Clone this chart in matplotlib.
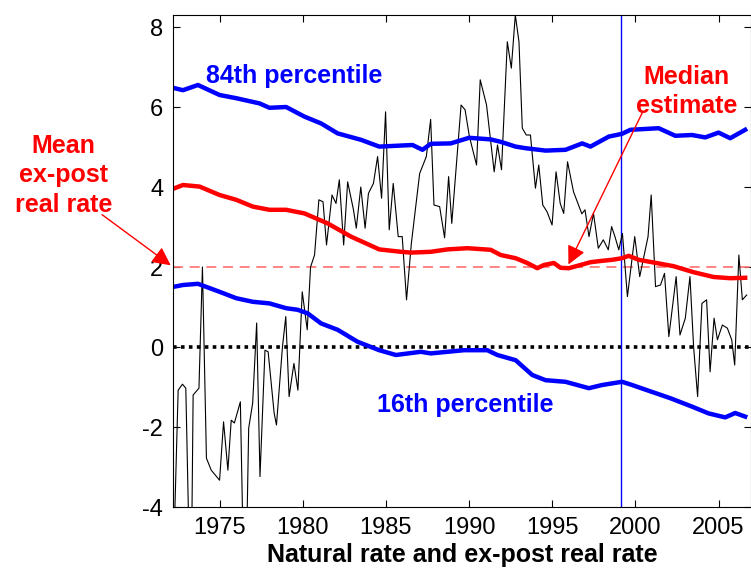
import matplotlib
matplotlib.use("Agg")
import matplotlib.pyplot as plt

plt.rcParams['font.family'] = ['Liberation Sans', 'DejaVu Sans']
plt.rcParams['axes.unicode_minus'] = False

# ex-post real rate (thin black line)
real_years = [1972.31, 1972.51, 1972.77, 1972.97, 1973.15, 1973.33, 1973.41, 1973.76, 1973.97,
              1974.21, 1974.50, 1975.00, 1975.24, 1975.50, 1975.70, 1975.89, 1976.25, 1976.40,
              1976.64, 1976.75, 1976.99, 1977.23, 1977.43, 1977.73, 1977.92, 1978.28, 1978.42,
              1978.78, 1978.98, 1979.18, 1979.47, 1979.71, 1979.97, 1980.27, 1980.47, 1980.71,
              1980.97, 1981.22, 1981.43, 1981.76, 1982.00, 1982.20, 1982.46, 1982.70, 1983.05,
              1983.22, 1983.49, 1983.75, 1983.95, 1984.25, 1984.50, 1984.74, 1984.98, 1985.20,
              1985.44, 1985.74, 1985.98, 1986.24, 1986.53, 1987.03, 1987.43, 1987.69, 1987.89,
              1988.23, 1988.53, 1988.77, 1988.96, 1989.52, 1989.76, 1990.02, 1990.45, 1990.67,
              1991.05, 1991.51, 1991.71, 1991.95, 1992.30, 1992.54, 1992.78, 1993.00, 1993.20,
              1993.44, 1993.69, 1993.99, 1994.19, 1994.43, 1994.69, 1994.99, 1995.23, 1995.48,
              1995.69, 1995.92, 1996.28, 1996.54, 1996.78, 1996.97, 1997.21, 1997.48, 1997.77,
              1998.07, 1998.37, 1998.57, 1998.77, 1999.00, 1999.22, 1999.52, 1999.76, 1999.96,
              2000.26, 2000.76, 2000.95, 2001.21, 2001.51, 2001.75, 2002.01, 2002.45, 2002.68,
              2003.00, 2003.28, 2003.50, 2003.74, 2004.00, 2004.28, 2004.49, 2004.73, 2004.93,
              2005.23, 2005.53, 2005.79, 2005.97, 2006.22, 2006.43, 2006.69]
real_rate = [-4.1, -1.08, -0.93, -1.03, -4.6, -4.6, -1.2, -1.03, 2.0,
             -2.78, -3.08, -3.33, -1.87, -3.08, -1.83, -1.9, -1.37, -4.6,
             -4.6, -2.03, -1.4, 0.6, -3.24, -0.08, -0.12, -1.65, -1.95,
             0.0, 0.76, -1.24, -0.41, -1.08, 1.38, 0.43, 2.0, 2.3,
             3.68, 3.63, 2.55, 3.8, 3.59, 4.18, 2.55, 4.13, 3.43,
             2.97, 4.0, 2.97, 3.84, 4.09, 4.76, 3.72, 5.88, 2.93,
             4.09, 2.76, 2.76, 1.18, 2.59, 4.34, 4.76, 5.69, 3.55,
             3.51, 2.73, 4.26, 3.09, 6.05, 5.93, 5.26, 4.55, 6.68,
             6.05, 4.38, 5.05, 4.43, 7.63, 6.97, 8.3, 7.63, 5.47,
             5.3, 5.3, 3.97, 4.55, 3.55, 3.38, 3.05, 4.38, 3.59,
             3.34, 4.63, 3.88, 3.59, 3.33, 3.43, 2.76, 3.34, 2.47,
             2.68, 2.43, 3.01, 2.76, 2.43, 2.84, 1.26, 2.09, 2.76,
             1.76, 2.76, 3.8, 1.51, 1.55, 1.84, 0.26, 1.76, 0.3,
             0.72, 1.76, 0.0, -1.24, 1.09, 1.18, -0.62, 0.72, 0.18,
             0.55, 0.47, 0.18, -0.45, 2.3, 1.18, 1.3]

# 84th percentile
p84_years = [1972.3, 1972.8, 1973.7, 1975.0, 1976.0, 1977.4, 1978.0, 1979.0, 1980.1, 1981.1,
             1982.1, 1983.5, 1984.6, 1985.6, 1986.6, 1987.2, 1987.7, 1988.9, 1990.0, 1991.3,
             1991.9, 1992.8, 1993.4, 1994.6, 1995.8, 1996.8, 1997.3, 1998.4, 1999.2, 1999.7,
             2001.4, 2002.4, 2003.4, 2004.2, 2005.0, 2005.7, 2006.6]
p84 = [6.47, 6.42, 6.55, 6.3, 6.22, 6.09, 5.98, 6.0, 5.76, 5.59,
       5.34, 5.18, 5.01, 5.03, 5.05, 4.93, 5.08, 5.09, 5.23, 5.19,
       5.13, 5.01, 4.97, 4.91, 4.93, 5.09, 5.01, 5.26, 5.33, 5.43,
       5.47, 5.28, 5.3, 5.24, 5.36, 5.22, 5.43]

# median estimate
med_years = [1972.3, 1972.8, 1973.8, 1975.0, 1976.0, 1977.0, 1978.0, 1979.0, 1980.1, 1981.5,
             1982.9, 1984.6, 1985.9, 1986.5, 1987.7, 1988.7, 1989.9, 1991.3, 1991.9, 1992.8,
             1993.5, 1994.1, 1994.5, 1995.1, 1995.5, 1996.0, 1996.7, 1997.3, 1997.9, 1998.6,
             1999.2, 1999.6, 2000.2, 2001.0, 2002.3, 2003.5, 2004.7, 2005.7, 2006.6]
median = [3.97, 4.05, 4.01, 3.8, 3.68, 3.51, 3.43, 3.43, 3.34, 3.09,
          2.76, 2.44, 2.38, 2.36, 2.38, 2.44, 2.47, 2.43, 2.3, 2.22,
          2.1, 1.97, 2.05, 2.1, 1.98, 1.97, 2.05, 2.12, 2.15, 2.18,
          2.22, 2.28, 2.18, 2.12, 2.02, 1.87, 1.75, 1.72, 1.73]

# 16th percentile
p16_years = [1972.3, 1972.8, 1973.7, 1975.0, 1976.0, 1977.0, 1978.0, 1979.0, 1979.7, 1980.3,
             1981.1, 1982.1, 1983.3, 1984.6, 1985.6, 1987.1, 1987.7, 1989.7, 1991.1, 1991.7,
             1992.8, 1993.8, 1994.6, 1995.8, 1997.2, 1998.0, 1999.2, 1999.8, 2000.7, 2002.1,
             2003.4, 2004.4, 2005.4, 2006.0, 2006.6]
p16 = [1.51, 1.55, 1.58, 1.38, 1.22, 1.13, 1.09, 0.97, 0.93, 0.84,
       0.59, 0.43, 0.13, -0.08, -0.2, -0.12, -0.16, -0.08, -0.08, -0.2,
       -0.33, -0.7, -0.83, -0.87, -1.03, -0.95, -0.87, -0.95, -1.08, -1.28,
       -1.49, -1.66, -1.76, -1.65, -1.74]

mean_real_rate = 2.0
split_year = 1999.15
x_ticks = [1975, 1980, 1985, 1990, 1995, 2000, 2005]
y_ticks = [-4, -2, 0, 2, 4, 6, 8]

fig = plt.figure(figsize=(7.51, 5.72), dpi=100)
ax = fig.add_axes([173 / 751, 1 - 507 / 572, 1 - 173 / 751, (507 - 15) / 572])

ax.axhline(mean_real_rate, color='#ff7070', lw=1.2, dashes=(6, 4))
ax.axhline(0, color='black', lw=2.6, linestyle=(0, (1, 1.2)))
ax.axvline(split_year, color='blue', lw=1)
ax.plot(real_years, real_rate, color='black', lw=0.8)
ax.plot(p84_years, p84, color='blue', lw=3.2)
ax.plot(p16_years, p16, color='blue', lw=3.2)
ax.plot(med_years, median, color='red', lw=3.2)

ax.set_xlim(1972.2, 2006.95)
ax.set_ylim(-4, 8.3)
ax.set_xticks(x_ticks)
ax.set_yticks(y_ticks)
ax.tick_params(direction='in', top=True, right=True, labelsize=17, length=5, pad=7)
ax.set_xlabel('Natural rate and ex-post real rate', fontsize=18, fontweight='bold', labelpad=3)

bold = dict(fontsize=18, fontweight='bold', ha='center', va='baseline')
ax.text(1979.5, 6.6, '84th percentile', color='blue', **bold)
ax.text(1989.8, -1.62, '16th percentile', color='blue', **bold)
ax.text(2003.07, 5.85, 'Median\nestimate', color='red', linespacing=1.28, clip_on=False, **bold)
ax.text(1965.6, 3.38, 'Mean\nex-post\nreal rate', color='red', linespacing=1.28, clip_on=False, **bold)

arrow = dict(arrowstyle='-|>', color='red', lw=1, mutation_scale=28)
ax.annotate('', xy=(1972.2, mean_real_rate), xytext=(1967.8, 3.35),
            arrowprops=arrow, annotation_clip=False)
ax.annotate('', xy=(1995.9, 2.0), xytext=(2000.5, 5.93),
            arrowprops=arrow, annotation_clip=False)

fig.savefig('out.png', dpi=100)
